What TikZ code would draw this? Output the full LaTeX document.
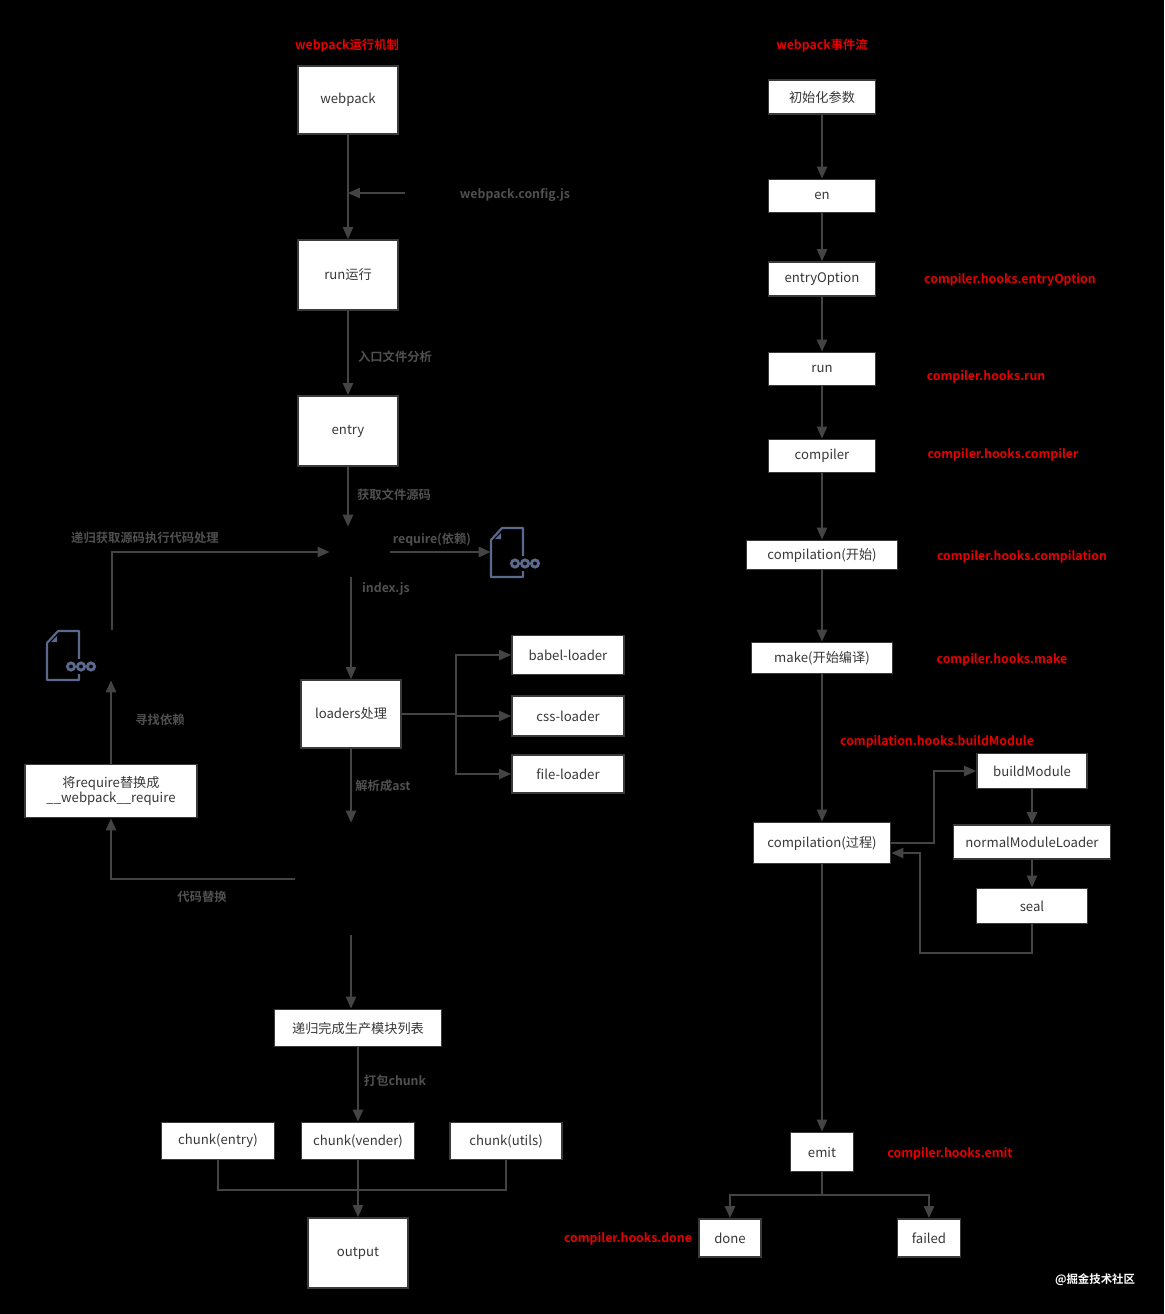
\documentclass[tikz,border=0pt]{standalone}
\usepackage{fontspec}
\setmainfont{Noto Sans CJK SC}[BoldFont={Noto Sans CJK SC Bold}]
\usetikzlibrary{arrows.meta}
\definecolor{linegray}{HTML}{444444}
\definecolor{boxgray}{HTML}{3A3A3A}
\definecolor{lblgray}{HTML}{505050}
\definecolor{hookred}{RGB}{230,0,0}
\definecolor{iconblue}{HTML}{5B6A8C}
\tikzset{
  box/.style={draw=boxgray, fill=white, line width=1.1pt, inner sep=0pt,
    text=black!78, font=\fontsize{7.5}{9}\selectfont, align=center},
  hidden/.style={inner sep=0pt},
  arr/.style={draw=linegray, line width=1.1pt, -{Triangle[width=5.8pt,length=6.8pt]}},
  plain/.style={draw=linegray, line width=1.1pt},
  lbl/.style={text=lblgray, font=\bfseries\fontsize{7}{8}\selectfont},
  hook/.style={text=hookred, font=\bfseries\fontsize{7}{8}\selectfont},
  fileicon/.pic={
    \draw[iconblue, line width=1.2pt, line join=round]
      (-16,-12) -- (-5,-24) -- (16,-24) -- (16,25) -- (-16,25) -- cycle;
    \fill[iconblue] (-12,-13) -- (-6,-19) -- (-6,-13) -- cycle;
    \fill[black] (2,4) rectangle (34,19);
    \foreach \i in {0,1,2}
      \draw[iconblue, line width=1.6pt] (8+\i*10,11.5) circle (3.6);
  }
}
\begin{document}
\begin{tikzpicture}[x=0.02cm, y=-0.02cm]
  \fill[black] (0,0) rectangle (1164,1314);
  \useasboundingbox (0,0) rectangle (1164,1314);

  % webpack运行机制
  \node[hook] (titleL) at (347,46) {webpack运行机制};
  \node[box, minimum width=2cm, minimum height=1.36cm] (webpack) at (348,100) {webpack};
  \node[box, minimum width=2cm, minimum height=1.4cm] (run) at (348,275) {run运行};
  \node[box, minimum width=2cm, minimum height=1.4cm] (entry) at (348,431) {entry};
  \node[hidden, minimum width=1.2cm, minimum height=1cm] (idx) at (360,552) {};
  \node[hidden, minimum width=0.64cm, minimum height=0.98cm] (rfile) at (507,552) {};
  \pic at (rfile) {fileicon};
  \node[box, minimum width=2cm, minimum height=1.36cm] (loaders) at (351,714) {loaders处理};
  \node[box, minimum width=2.24cm, minimum height=0.78cm] (babel) at (568,655) {babel-loader};
  \node[box, minimum width=2.24cm, minimum height=0.8cm] (css) at (568,716) {css-loader};
  \node[box, minimum width=2.24cm, minimum height=0.76cm] (file) at (568,774) {file-loader};
  \node[hidden, minimum width=2.24cm, minimum height=2.24cm] (ast) at (351,879) {};
  \node[box, minimum width=3.44cm, minimum height=1.06cm] (replace) at (111,791)
    {将require替换成\\\_\_webpack\_\_require};
  \node[hidden, minimum width=0.2cm, minimum height=1cm] (dep) at (112,655) {};
  \pic at (63,655) {fileicon};
  \node[box, minimum width=3.34cm, minimum height=0.74cm] (mods) at (358,1028) {递归完成生产模块列表};
  \node[box, minimum width=2.26cm, minimum height=0.74cm] (centry) at (218,1141) {chunk(entry)};
  \node[box, minimum width=2.26cm, minimum height=0.74cm] (cvender) at (358,1141) {chunk(vender)};
  \node[box, minimum width=2.24cm, minimum height=0.74cm] (cutils) at (506,1141) {chunk(utils)};
  \node[box, minimum width=2cm, minimum height=1.4cm] (output) at (358,1253) {output};

  \draw[arr] (webpack) -- (run);
  \coordinate (cfg) at (405,193);
  \draw[arr] (cfg) -- (cfg -| run);
  \node[lbl] (cfgtext) at (515,195) {webpack.config.js};
  \draw[arr] (run) -- (entry);
  \node[lbl] (runtext) at (395,357) {入口文件分析};
  \draw[arr] (entry) -- (entry |- idx.north);
  \node[lbl] (entrytext) at (394,495) {获取文件源码};
  \draw[arr] (idx.east) -- (rfile.west);
  \node[lbl] (reqtext) at (432,540) {require(依赖)};
  \node[lbl] (idxtext) at (386,589) {index.js};
  \draw[arr] (idx.south -| loaders) -- (loaders);
  \coordinate (split) at (456,714);
  \draw[plain] (loaders.east) -- (split);
  \foreach \ld in {babel, css, file}
    \draw[arr] (split) |- (\ld.west);
  \draw[arr] (loaders) -- (loaders |- ast.north);
  \node[lbl] (asttext) at (383,786) {解析成ast};
  \draw[arr] (ast.west) -| (replace.south);
  \node[lbl] (subtext) at (202,897) {代码替换};
  \draw[arr] (replace) -- (replace |- dep.south);
  \node[lbl] (deptext) at (160,720) {寻找依赖};
  \draw[arr] (dep.north) |- (idx.west);
  \node[lbl] (looptext) at (145,538) {递归获取源码执行代码处理};
  \draw[arr] (ast.south) -- (ast.south |- mods.north);
  \draw[arr] (mods) -- (cvender);
  \node[lbl] (chunktext) at (395,1081) {打包chunk};
  \coordinate (join) at (358,1190);
  \draw[plain] (centry) |- (join) -| (cutils);
  \draw[arr] (cvender) -- (output);

  % webpack事件流
  \node[hook] (titleR) at (822,46) {webpack事件流};
  \node[box, minimum width=2.14cm, minimum height=0.68cm] (init) at (822,97) {初始化参数};
  \node[box, minimum width=2.14cm, minimum height=0.66cm] (en) at (822,196) {en};
  \node[box, minimum width=2.14cm, minimum height=0.68cm] (entryOpt) at (822,279) {entryOption};
  \node[box, minimum width=2.14cm, minimum height=0.66cm] (runR) at (822,369) {run};
  \node[box, minimum width=2.14cm, minimum height=0.66cm] (compiler) at (822,456) {compiler};
  \node[box, minimum width=3.02cm, minimum height=0.58cm] (compStart) at (822,555) {compilation(开始)};
  \node[box, minimum width=2.82cm, minimum height=0.62cm] (make) at (822,658) {make(开始编译)};
  \node[box, minimum width=2.74cm, minimum height=0.82cm] (compProc) at (822,843) {compilation(过程)};
  \node[box, minimum width=2.2cm, minimum height=0.7cm] (build) at (1032,771) {buildModule};
  \node[box, minimum width=3.14cm, minimum height=0.68cm] (nml) at (1032,842) {normalModuleLoader};
  \node[box, minimum width=2.22cm, minimum height=0.7cm] (seal) at (1032,906) {seal};
  \node[box, minimum width=1.26cm, minimum height=0.78cm] (emit) at (822,1152) {emit};
  \node[box, minimum width=1.24cm, minimum height=0.76cm] (done) at (730,1238) {done};
  \node[box, minimum width=1.26cm, minimum height=0.76cm] (failed) at (929,1238) {failed};

  \foreach \a/\b in {init/en, en/entryOpt, entryOpt/runR, runR/compiler,
                     compiler/compStart, compStart/make, make/compProc, compProc/emit}
    \draw[arr] (\a) -- (\b);
  \coordinate (fork) at (934,843);
  \draw[arr] (compProc.east) -- (fork) |- (build.west);
  \draw[arr] (build) -- (nml);
  \draw[arr] (nml) -- (seal);
  \coordinate (back) at (920,953);
  \draw[arr] (seal.south) |- (back) |- ([yshift=-0.2cm]compProc.east);
  \coordinate (branch) at (822,1195);
  \draw[plain] (emit) -- (branch);
  \draw[arr] (branch) -| (done);
  \draw[arr] (branch) -| (failed);

  \node[hook] (hkEntry) at (1010,280) {compiler.hooks.entryOption};
  \node[hook] (hkRun) at (986,377) {compiler.hooks.run};
  \node[hook] (hkComp) at (1003,455) {compiler.hooks.compiler};
  \node[hook] (hkCompil) at (1022,557) {compiler.hooks.compilation};
  \node[hook] (hkMake) at (1002,660) {compiler.hooks.make};
  \node[hook] (hkBuild) at (937,742) {compilation.hooks.buildModule};
  \node[hook] (hkEmit) at (950,1154) {compiler.hooks.emit};
  \node[hook] (hkDone) at (628,1239) {compiler.hooks.done};

  \node[text=white, font=\bfseries\fontsize{6.5}{8}\selectfont] (mark) at (1095,1280) {@掘金技术社区};
\end{tikzpicture}
\end{document}
